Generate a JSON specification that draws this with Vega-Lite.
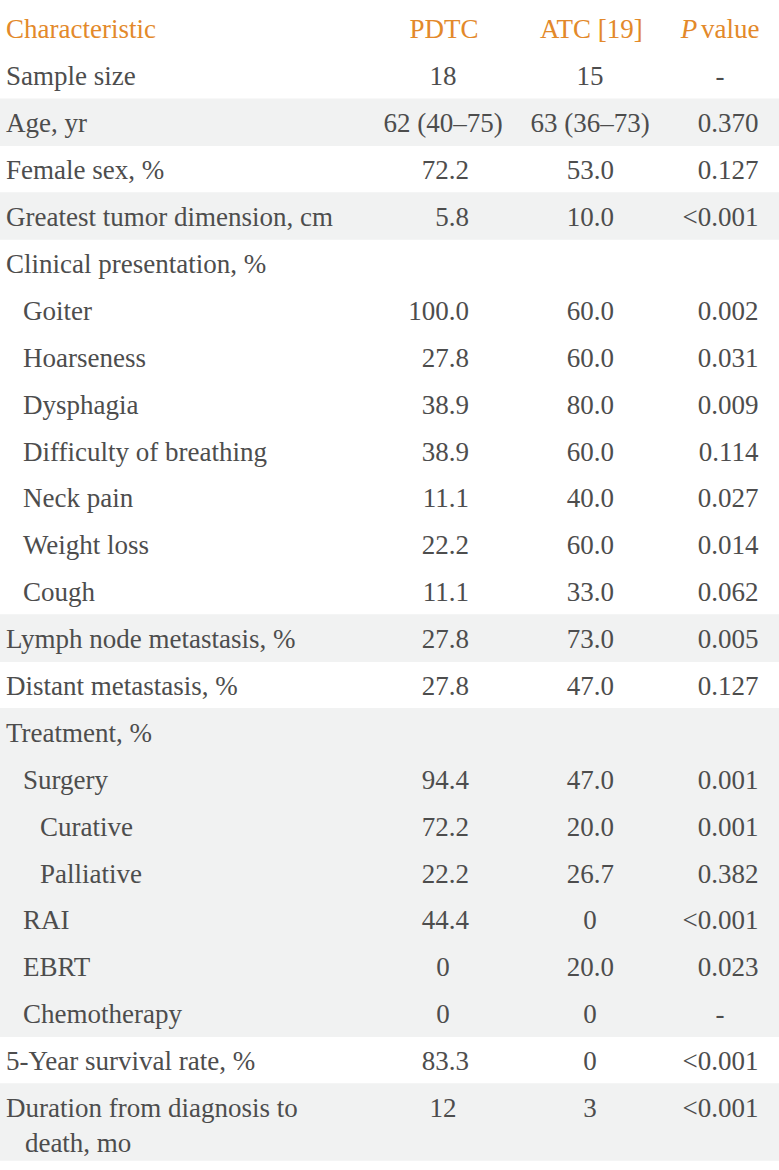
{
  "$schema": "https://vega.github.io/schema/vega-lite/v6.json",
  "width": 779,
  "height": 1170,
  "autosize": {"type": "fit", "contains": "padding"},
  "padding": 0,
  "background": "white",
  "config": {"view": {"stroke": null}, "text": {"font": "Liberation Serif", "fontSize": 27, "color": "#4d4d4d"}},
  "datasets": {
    "table": [
      {"row": 1, "characteristic": "Sample size", "level": 0, "group": 0, "PDTC": "18", "ATC": "15", "P": "-"},
      {"row": 2, "characteristic": "Age, yr", "level": 0, "group": 1, "PDTC": "62 (40–75)", "ATC": "63 (36–73)", "P": "0.370"},
      {"row": 3, "characteristic": "Female sex, %", "level": 0, "group": 2, "PDTC": "72.2", "ATC": "53.0", "P": "0.127"},
      {"row": 4, "characteristic": "Greatest tumor dimension, cm", "level": 0, "group": 3, "PDTC": "5.8", "ATC": "10.0", "P": "<0.001"},
      {"row": 5, "characteristic": "Clinical presentation, %", "level": 0, "group": 4, "PDTC": "", "ATC": "", "P": ""},
      {"row": 6, "characteristic": "Goiter", "level": 1, "group": 4, "PDTC": "100.0", "ATC": "60.0", "P": "0.002"},
      {"row": 7, "characteristic": "Hoarseness", "level": 1, "group": 4, "PDTC": "27.8", "ATC": "60.0", "P": "0.031"},
      {"row": 8, "characteristic": "Dysphagia", "level": 1, "group": 4, "PDTC": "38.9", "ATC": "80.0", "P": "0.009"},
      {"row": 9, "characteristic": "Difficulty of breathing", "level": 1, "group": 4, "PDTC": "38.9", "ATC": "60.0", "P": "0.114"},
      {"row": 10, "characteristic": "Neck pain", "level": 1, "group": 4, "PDTC": "11.1", "ATC": "40.0", "P": "0.027"},
      {"row": 11, "characteristic": "Weight loss", "level": 1, "group": 4, "PDTC": "22.2", "ATC": "60.0", "P": "0.014"},
      {"row": 12, "characteristic": "Cough", "level": 1, "group": 4, "PDTC": "11.1", "ATC": "33.0", "P": "0.062"},
      {"row": 13, "characteristic": "Lymph node metastasis, %", "level": 0, "group": 5, "PDTC": "27.8", "ATC": "73.0", "P": "0.005"},
      {"row": 14, "characteristic": "Distant metastasis, %", "level": 0, "group": 6, "PDTC": "27.8", "ATC": "47.0", "P": "0.127"},
      {"row": 15, "characteristic": "Treatment, %", "level": 0, "group": 7, "PDTC": "", "ATC": "", "P": ""},
      {"row": 16, "characteristic": "Surgery", "level": 1, "group": 7, "PDTC": "94.4", "ATC": "47.0", "P": "0.001"},
      {"row": 17, "characteristic": "Curative", "level": 2, "group": 7, "PDTC": "72.2", "ATC": "20.0", "P": "0.001"},
      {"row": 18, "characteristic": "Palliative", "level": 2, "group": 7, "PDTC": "22.2", "ATC": "26.7", "P": "0.382"},
      {"row": 19, "characteristic": "RAI", "level": 1, "group": 7, "PDTC": "44.4", "ATC": "0", "P": "<0.001"},
      {"row": 20, "characteristic": "EBRT", "level": 1, "group": 7, "PDTC": "0", "ATC": "20.0", "P": "0.023"},
      {"row": 21, "characteristic": "Chemotherapy", "level": 1, "group": 7, "PDTC": "0", "ATC": "0", "P": "-"},
      {"row": 22, "characteristic": "5-Year survival rate, %", "level": 0, "group": 8, "PDTC": "83.3", "ATC": "0", "P": "<0.001"},
      {"row": 23, "characteristic": "Duration from diagnosis to\n\u200b\u00a0\u00a0\u2009death, mo", "level": 0, "group": 9, "PDTC": "12", "ATC": "3", "P": "<0.001"}
    ],
    "header": [
      {"row": 0, "column": "Characteristic"},
      {"row": 0, "column": "PDTC"},
      {"row": 0, "column": "ATC [19]"},
      {"row": 0, "column": "P"},
      {"row": 0, "column": "value"}
    ]
  },
  "data": {"name": "table"},
  "encoding": {
    "y": {"field": "row", "type": "quantitative", "scale": {"domain": [-0.5, 24.236], "reverse": true, "nice": false, "zero": false}, "axis": null}
  },
  "layer": [
    {
      "transform": [{"filter": "datum.group % 2 === 1"}],
      "mark": {"type": "bar", "orient": "horizontal", "color": "#f1f2f2", "size": 47.6},
      "encoding": {
        "x": {"datum": 0, "type": "quantitative", "scale": {"domain": [0, 100], "nice": false, "zero": false}, "axis": null},
        "x2": {"datum": 100}
      }
    },
    {
      "transform": [{"filter": "datum.group % 2 === 1 && indexof(datum.characteristic, '\\n') >= 0"}],
      "mark": {"type": "bar", "orient": "horizontal", "color": "#f1f2f2", "size": 47.6, "yOffset": 30},
      "encoding": {
        "x": {"datum": 0, "type": "quantitative", "scale": {"domain": [0, 100], "nice": false, "zero": false}, "axis": null},
        "x2": {"datum": 100}
      }
    },
    {
      "transform": [{"filter": "datum.level === 0"}],
      "mark": {"type": "text", "align": "left", "baseline": "alphabetic", "dy": 10, "lineBreak": "\n", "lineHeight": 35},
      "encoding": {
        "x": {"datum": 0.77, "type": "quantitative", "scale": {"domain": [0, 100], "nice": false, "zero": false}, "axis": null},
        "text": {"field": "characteristic"}
      }
    },
    {
      "transform": [{"filter": "datum.level === 1"}],
      "mark": {"type": "text", "align": "left", "baseline": "alphabetic", "dy": 10},
      "encoding": {
        "x": {"datum": 2.95, "type": "quantitative", "scale": {"domain": [0, 100], "nice": false, "zero": false}, "axis": null},
        "text": {"field": "characteristic"}
      }
    },
    {
      "transform": [{"filter": "datum.level === 2"}],
      "mark": {"type": "text", "align": "left", "baseline": "alphabetic", "dy": 10},
      "encoding": {
        "x": {"datum": 5.13, "type": "quantitative", "scale": {"domain": [0, 100], "nice": false, "zero": false}, "axis": null},
        "text": {"field": "characteristic"}
      }
    },
    {
      "transform": [{"filter": "indexof(datum.PDTC, '.') >= 0"}],
      "mark": {"type": "text", "align": "right", "baseline": "alphabetic", "dy": 10},
      "encoding": {
        "x": {"datum": 60.21, "type": "quantitative", "scale": {"domain": [0, 100], "nice": false, "zero": false}, "axis": null},
        "text": {"field": "PDTC"}
      }
    },
    {
      "transform": [{"filter": "indexof(datum.PDTC, '.') < 0"}],
      "mark": {"type": "text", "align": "center", "baseline": "alphabetic", "dy": 10},
      "encoding": {
        "x": {"datum": 56.87, "type": "quantitative", "scale": {"domain": [0, 100], "nice": false, "zero": false}, "axis": null},
        "text": {"field": "PDTC"}
      }
    },
    {
      "transform": [{"filter": "indexof(datum.ATC, '.') >= 0"}],
      "mark": {"type": "text", "align": "right", "baseline": "alphabetic", "dy": 10},
      "encoding": {
        "x": {"datum": 78.82, "type": "quantitative", "scale": {"domain": [0, 100], "nice": false, "zero": false}, "axis": null},
        "text": {"field": "ATC"}
      }
    },
    {
      "transform": [{"filter": "indexof(datum.ATC, '.') < 0"}],
      "mark": {"type": "text", "align": "center", "baseline": "alphabetic", "dy": 10},
      "encoding": {
        "x": {"datum": 75.74, "type": "quantitative", "scale": {"domain": [0, 100], "nice": false, "zero": false}, "axis": null},
        "text": {"field": "ATC"}
      }
    },
    {
      "transform": [{"filter": "indexof(datum.P, '.') >= 0"}],
      "mark": {"type": "text", "align": "right", "baseline": "alphabetic", "dy": 10},
      "encoding": {
        "x": {"datum": 97.37, "type": "quantitative", "scale": {"domain": [0, 100], "nice": false, "zero": false}, "axis": null},
        "text": {"field": "P"}
      }
    },
    {
      "transform": [{"filter": "indexof(datum.P, '.') < 0"}],
      "mark": {"type": "text", "align": "center", "baseline": "alphabetic", "dy": 10},
      "encoding": {
        "x": {"datum": 92.43, "type": "quantitative", "scale": {"domain": [0, 100], "nice": false, "zero": false}, "axis": null},
        "text": {"field": "P"}
      }
    },
    {
      "data": {"name": "header"},
      "transform": [{"filter": "datum.column === 'Characteristic'"}],
      "mark": {"type": "text", "align": "left", "baseline": "alphabetic", "dy": 9.5, "color": "#e3892a"},
      "encoding": {
        "x": {"datum": 0.77, "type": "quantitative", "scale": {"domain": [0, 100], "nice": false, "zero": false}, "axis": null},
        "text": {"field": "column"}
      }
    },
    {
      "data": {"name": "header"},
      "transform": [{"filter": "datum.column === 'PDTC'"}],
      "mark": {"type": "text", "align": "center", "baseline": "alphabetic", "dy": 9.5, "color": "#e3892a"},
      "encoding": {
        "x": {"datum": 57.0, "type": "quantitative", "scale": {"domain": [0, 100], "nice": false, "zero": false}, "axis": null},
        "text": {"field": "column"}
      }
    },
    {
      "data": {"name": "header"},
      "transform": [{"filter": "datum.column === 'ATC [19]'"}],
      "mark": {"type": "text", "align": "center", "baseline": "alphabetic", "dy": 9.5, "color": "#e3892a"},
      "encoding": {
        "x": {"datum": 75.9, "type": "quantitative", "scale": {"domain": [0, 100], "nice": false, "zero": false}, "axis": null},
        "text": {"field": "column"}
      }
    },
    {
      "data": {"name": "header"},
      "transform": [{"filter": "datum.column === 'P'"}],
      "mark": {"type": "text", "align": "right", "baseline": "alphabetic", "dy": 9.5, "color": "#e3892a", "fontStyle": "italic"},
      "encoding": {
        "x": {"datum": 89.5, "type": "quantitative", "scale": {"domain": [0, 100], "nice": false, "zero": false}, "axis": null},
        "text": {"field": "column"}
      }
    },
    {
      "data": {"name": "header"},
      "transform": [{"filter": "datum.column === 'value'"}],
      "mark": {"type": "text", "align": "left", "baseline": "alphabetic", "dy": 9.5, "color": "#e3892a"},
      "encoding": {
        "x": {"datum": 90.0, "type": "quantitative", "scale": {"domain": [0, 100], "nice": false, "zero": false}, "axis": null},
        "text": {"field": "column"}
      }
    },
    {
      "data": {"values": [{"edge": "top"}]},
      "mark": {"type": "rule", "color": "#eca75c", "strokeWidth": 1.5},
      "encoding": {
        "y": {"datum": -0.48, "type": "quantitative"},
        "x": {"datum": 0, "type": "quantitative", "scale": {"domain": [0, 100], "nice": false, "zero": false}, "axis": null},
        "x2": {"datum": 100}
      }
    },
    {
      "data": {"values": [{"edge": "header"}]},
      "mark": {"type": "rule", "color": "#eca75c", "strokeWidth": 1.5},
      "encoding": {
        "y": {"datum": 0.51, "type": "quantitative"},
        "x": {"datum": 0, "type": "quantitative", "scale": {"domain": [0, 100], "nice": false, "zero": false}, "axis": null},
        "x2": {"datum": 100}
      }
    },
    {
      "data": {"values": [{"edge": "bottom"}]},
      "mark": {"type": "rule", "color": "#eca75c", "strokeWidth": 2},
      "encoding": {
        "y": {"datum": 24.16, "type": "quantitative"},
        "x": {"datum": 0, "type": "quantitative", "scale": {"domain": [0, 100], "nice": false, "zero": false}, "axis": null},
        "x2": {"datum": 100}
      }
    }
  ]
}
